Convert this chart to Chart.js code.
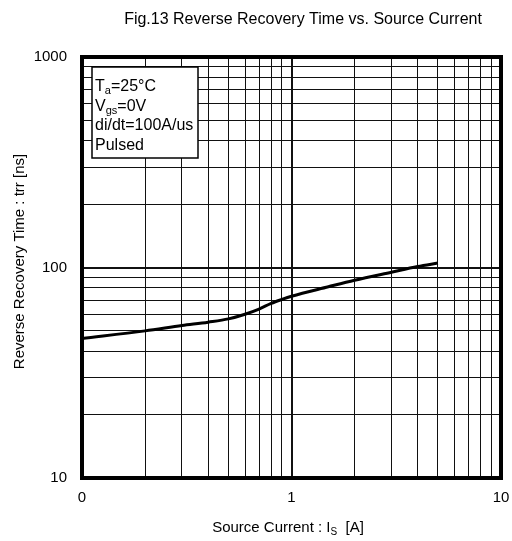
<!DOCTYPE html>
<html>
<head>
<meta charset="utf-8">
<script src="https://cdn.jsdelivr.net/npm/chart.js@4.4.1/dist/chart.umd.min.js"></script>
<style>
    html, body { margin: 0; padding: 0; background: #fff; }
    #wrap { width: 512px; height: 541px; }
</style>
</head>
<body>
<div id="wrap"><canvas id="chart-trr"></canvas></div>
<script>
// data
const sourceCurrent = [0.1, 0.2, 0.3, 0.4, 0.5, 0.6, 0.7, 0.8, 0.9, 1, 1.5, 2, 3, 4, 5]
const recoveryTime = [46, 50, 53, 55, 57, 60, 63.5, 67.5, 70.5, 73, 81, 87, 95, 101, 105]

const xTicks = [0.1, 0.2, 0.3, 0.4, 0.5, 0.6, 0.7, 0.8, 0.9, 1, 2, 3, 4, 5, 6, 7, 8, 9, 10]
const yTicks = [10, 20, 30, 40, 50, 60, 70, 80, 90, 100, 200, 300, 400, 500, 600, 700, 800, 900, 1000]
const xLabels = { 0.1: '0', 1: '1', 10: '10' }
const yLabels = { 10: '10', 100: '100', 1000: '1000' }

const conditions = [
    ['T', 'a', '=25°C'],
    ['V', 'gs', '=0V'],
    ['di/dt=100A/us', '', ''],
    ['Pulsed', '', ''],
]

const FONT = '"Liberation Sans", Arial, sans-serif'

const isDecade = (v) => Math.abs(Math.log10(v) - Math.round(Math.log10(v))) < 1e-9

const gridWidth = (ctx) => (ctx.tick && isDecade(ctx.tick.value) ? 2 : 1)

// draws the frame, titles and the condition box
const decorPlugin = {
    id: 'decor',
    afterDraw(chart) {
        const { ctx, chartArea: a } = chart
        ctx.save()

        ctx.strokeStyle = '#000'
        ctx.lineWidth = 4
        ctx.strokeRect(a.left, a.top, a.right - a.left, a.bottom - a.top)

        ctx.fillStyle = '#000'
        ctx.textBaseline = 'middle'

        // title
        ctx.font = `16px ${FONT}`
        ctx.textAlign = 'center'
        ctx.fillText('Fig.13 Reverse Recovery Time vs. Source Current', 303, 20)

        // x axis title with subscript
        const xt1 = 'Source Current : I'
        const xtSub = 'S'
        const xt2 = '  [A]'
        ctx.font = `15px ${FONT}`
        const w1 = ctx.measureText(xt1).width
        const w3 = ctx.measureText(xt2).width
        ctx.font = `10px ${FONT}`
        const w2 = ctx.measureText(xtSub).width
        let x0 = 288 - (w1 + w2 + w3) / 2
        const yb = 528
        ctx.textAlign = 'left'
        ctx.font = `15px ${FONT}`
        ctx.fillText(xt1, x0, yb)
        ctx.font = `10px ${FONT}`
        ctx.fillText(xtSub, x0 + w1, yb + 4)
        ctx.font = `15px ${FONT}`
        ctx.fillText(xt2, x0 + w1 + w2, yb)

        // y axis title
        ctx.save()
        ctx.translate(20, (a.top + a.bottom) / 2 - 6)
        ctx.rotate(-Math.PI / 2)
        ctx.textAlign = 'center'
        ctx.font = `15px ${FONT}`
        ctx.fillText('Reverse Recovery Time : trr [ns]', 0, 0)
        ctx.restore()

        // condition box
        const bx = a.left + 10
        const by = a.top + 10
        const bw = 106
        const bh = 91
        ctx.fillStyle = '#fff'
        ctx.fillRect(bx, by, bw, bh)
        ctx.strokeStyle = '#000'
        ctx.lineWidth = 1.5
        ctx.strokeRect(bx, by, bw, bh)

        ctx.fillStyle = '#000'
        ctx.textAlign = 'left'
        conditions.forEach((row, i) => {
            const ty = by + 20 + i * 19.5
            let tx = bx + 3
            ctx.font = `16px ${FONT}`
            ctx.fillText(row[0], tx, ty)
            tx += ctx.measureText(row[0]).width
            if (row[1]) {
                ctx.font = `11px ${FONT}`
                ctx.fillText(row[1], tx, ty + 4)
                tx += ctx.measureText(row[1]).width
            }
            if (row[2]) {
                ctx.font = `16px ${FONT}`
                ctx.fillText(row[2], tx, ty)
            }
        })

        ctx.restore()
    },
}

const chartCtx = document.getElementById('chart-trr').getContext('2d')

const chartTrr = new Chart(chartCtx, {
    type: 'line',
    data: {
        datasets: [
            {
                data: sourceCurrent.map((x, i) => ({ x: x, y: recoveryTime[i] })),
                borderColor: '#000',
                borderWidth: 3,
                pointRadius: 0,
                cubicInterpolationMode: 'monotone',
                fill: false,
            },
        ],
    },
    options: {
        responsive: true,
        maintainAspectRatio: false,
        animation: false,
        devicePixelRatio: 1,
        layout: {
            padding: { top: 57, right: 11, left: 0, bottom: 0 },
        },
        plugins: {
            legend: { display: false },
            tooltip: { enabled: false },
            title: { display: false },
        },
        scales: {
            x: {
                type: 'logarithmic',
                min: 0.1,
                max: 10,
                afterBuildTicks: (scale) => {
                    scale.ticks = xTicks.map((v) => ({ value: v }))
                },
                afterFit: (scale) => {
                    scale.height = 63
                    scale.paddingLeft = 0
                    scale.paddingRight = 0
                },
                grid: {
                    color: '#111',
                    lineWidth: gridWidth,
                    drawTicks: false,
                },
                border: { display: false },
                ticks: {
                    autoSkip: false,
                    maxRotation: 0,
                    padding: 11,
                    color: '#000',
                    font: { family: FONT, size: 15 },
                    callback: (v) => xLabels[v] || '',
                },
            },
            y: {
                type: 'logarithmic',
                min: 10,
                max: 1000,
                afterBuildTicks: (scale) => {
                    scale.ticks = yTicks.map((v) => ({ value: v }))
                },
                afterFit: (scale) => {
                    scale.width = 82
                    scale.paddingTop = 0
                    scale.paddingBottom = 0
                },
                grid: {
                    color: '#111',
                    lineWidth: gridWidth,
                    drawTicks: false,
                },
                border: { display: false },
                ticks: {
                    autoSkip: false,
                    padding: 15,
                    color: '#000',
                    font: { family: FONT, size: 15 },
                    callback: (v) => yLabels[v] || '',
                },
            },
        },
    },
    plugins: [decorPlugin],
})
</script>
</body>
</html>
